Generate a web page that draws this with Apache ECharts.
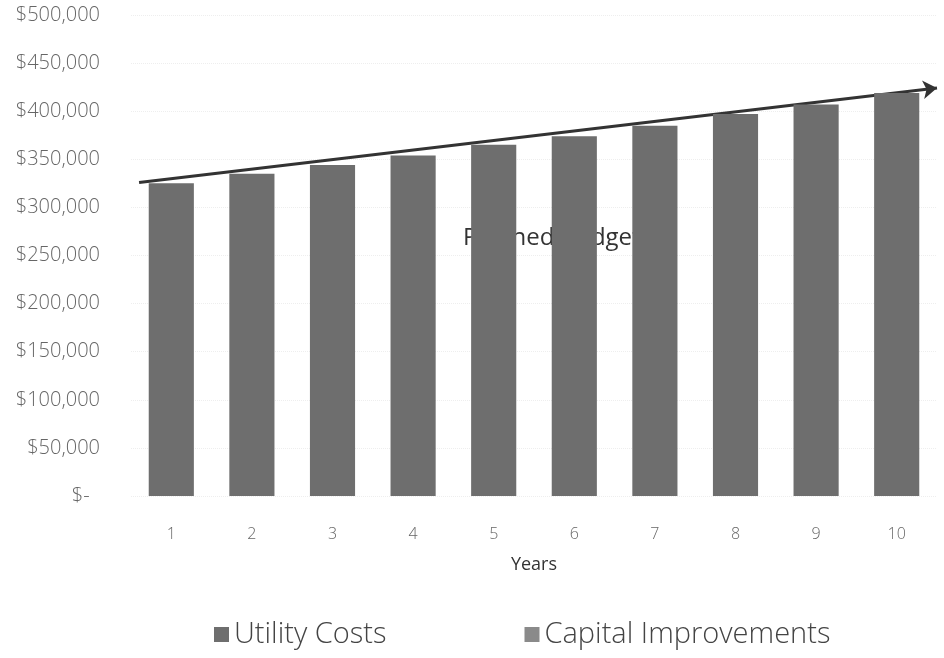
<!DOCTYPE html>
<html>
<head>
<meta charset="utf-8">
<script src="https://cdn.jsdelivr.net/npm/echarts@6/dist/echarts.min.js"></script>
<style>
  html, body { margin: 0; padding: 0; background: #fff; }
  #chart { width: 944px; height: 658px; }
</style>
</head>
<body>
<div id="chart"></div>
<script>
  // 数据
  var years = ['1', '2', '3', '4', '5', '6', '7', '8', '9', '10']
  var utilityCosts = [325000, 335000, 344000, 354000, 365000, 374000, 385000, 397000, 407000, 419000]
  var capitalImprovements = [0, 0, 0, 0, 0, 0, 0, 0, 0, 0]
  // Planned Budget 箭头线 (x 为年份位置, 0 ~ 10)
  var budgetX = [0.1, 10]
  var budgetY = [326000, 424000]

  var myChart = echarts.init(document.getElementById('chart'))
  var fontFamily = "'Open Sans', 'Noto Sans', sans-serif"

  var option = {
    backgroundColor: '#fff',
    animation: false,
    grid: {
      left: 131,
      right: 7,
      top: 15,
      bottom: 162
    },
    legend: {
      bottom: 4,
      left: 209,
      icon: 'rect',
      itemWidth: 15,
      itemHeight: 15,
      itemGap: 138,
      textStyle: {
        color: '#444',
        fontSize: 29,
        fontWeight: 300,
        fontFamily: fontFamily
      },
      data: ['Utility Costs', 'Capital Improvements']
    },
    xAxis: [
      {
        type: 'category',
        data: years,
        name: 'Years',
        nameLocation: 'middle',
        nameGap: 60,
        nameTextStyle: { color: '#333', fontSize: 18, fontFamily: fontFamily },
        axisLine: { show: false },
        axisTick: { show: false },
        axisLabel: { color: '#666', fontSize: 16, fontWeight: 300, margin: 30, fontFamily: fontFamily }
      },
      {
        // 隐藏的数值轴, 用来画预算线
        type: 'value',
        min: 0,
        max: 10,
        show: false
      }
    ],
    yAxis: {
      type: 'value',
      min: 0,
      max: 500000,
      interval: 50000,
      axisLine: { show: false },
      axisTick: { show: false },
      axisLabel: {
        color: '#666',
        fontSize: 20,
        fontWeight: 300,
        margin: 31,
        fontFamily: fontFamily,
        formatter: function (v) {
          return v === 0 ? '$-  ' : '$' + v.toLocaleString('en-US')
        }
      },
      splitLine: {
        lineStyle: { color: '#eeeeee', type: 'dotted' }
      }
    },
    graphic: [
      {
        type: 'text',
        left: 463,
        top: 226,
        z: 0,
        style: {
          text: 'Planned Budget',
          fill: '#333',
          font: "24px 'Open Sans', sans-serif"
        }
      }
    ],
    series: [
      {
        name: 'Utility Costs',
        type: 'bar',
        stack: 'total',
        barCategoryGap: '44%',
        z: 5,
        itemStyle: { color: '#6e6e6e' },
        data: utilityCosts
      },
      {
        name: 'Capital Improvements',
        type: 'bar',
        stack: 'total',
        z: 5,
        itemStyle: { color: '#8a8a8a' },
        data: capitalImprovements
      },
      {
        name: 'Planned Budget',
        type: 'line',
        xAxisIndex: 1,
        z: 6,
        showSymbol: false,
        silent: true,
        lineStyle: { opacity: 0 },
        data: budgetX.map(function (x, i) { return [x, budgetY[i]] }),
        markLine: {
          silent: true,
          symbol: ['none', 'arrow'],
          symbolSize: 14,
          label: { show: false },
          lineStyle: { color: '#333', width: 3, type: 'solid' },
          data: [[
            { coord: [budgetX[0], budgetY[0]] },
            { coord: [budgetX[1], budgetY[1]] }
          ]]
        }
      }
    ]
  }

  myChart.setOption(option)
</script>
</body>
</html>
